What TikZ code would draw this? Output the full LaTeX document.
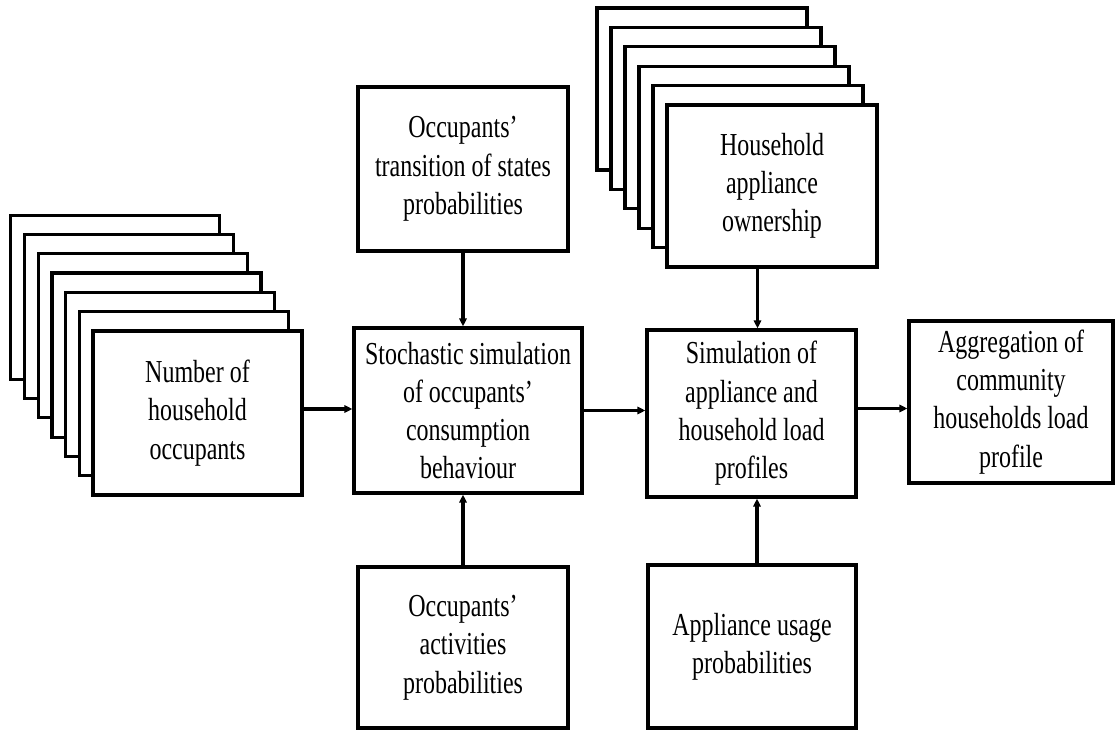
\documentclass[tikz,border=0pt]{standalone}
\usepackage{fontspec}
\setmainfont{Liberation Serif}[FakeStretch=0.75]
\usetikzlibrary{arrows.meta,calc}
\begin{document}
\begin{tikzpicture}[x=0.75pt,y=-0.75pt,
  box/.style={draw=black,line width=2.4pt,fill=white,rectangle,inner sep=0pt,
    align=center,font=\fontsize{24pt}{28.7pt}\selectfont},
  arr/.style={line width=2.4pt,-{Triangle[length=6pt,width=5.5pt]}}]
\useasboundingbox (0,0) rectangle (1115,731);
% box helper: name, left, top, right, bottom, text (px)
\newcommand{\pbox}[6]{%
  \node[box,minimum width={((#4)-(#2))*0.75pt},minimum height={((#5)-(#3))*0.75pt}] (#1)
    at ({((#2)+(#4))/2},{((#3)+(#5))/2}) {#6};}
% left stack (7 boxes)
\foreach \k in {6,5,...,1}{
  \pbox{n\k}{93-13.7*\k}{331-19.3*\k}{302-13.7*\k}{495-19.3*\k}{}
}
\pbox{N}{93}{331}{302}{495}{Number of\\household\\occupants}
% top right stack (6 boxes)
\foreach \k in {5,4,...,1}{
  \pbox{h\k}{667-14*\k}{105-19.4*\k}{877-14*\k}{267-19.4*\k}{}
}
\pbox{H}{667}{105}{877}{267}{Household\\appliance\\ownership}
\pbox{T}{358}{87}{568}{251}{Occupants'\\transition of states\\probabilities}
\pbox{C}{354}{328}{582}{493}{Stochastic simulation\\of occupants'\\consumption\\behaviour}
\pbox{B}{358}{567}{568}{728}{Occupants'\\activities\\probabilities}
\pbox{S}{647}{330}{856}{497}{Simulation of\\appliance and\\household load\\profiles}
\pbox{U}{648}{565}{856}{728}{Appliance usage\\probabilities}
\pbox{A}{909}{321}{1113}{483}{Aggregation of\\community\\households load\\profile}
% connectors
\draw[arr] ($(N.east)+(0,-4)$) -- ($(N.east -| C.west)+(0,-4)$);
\draw[arr] (T.south) -- (T.south |- C.north);
\draw[arr] (B.north) -- (B.north |- C.south);
\draw[arr] (C.east) -- (C.east -| S.west);
\draw[arr] ($(H.south -| S.north)+(6,0)$) -- ($(S.north)+(6,0)$);
\draw[arr] ($(U.north)+(5,0)$) -- ($(U.north |- S.south)+(5,0)$);
\draw[arr] ($(S.east)+(0,-5)$) -- ($(S.east -| A.west)+(0,-5)$);
\end{tikzpicture}
\end{document}
